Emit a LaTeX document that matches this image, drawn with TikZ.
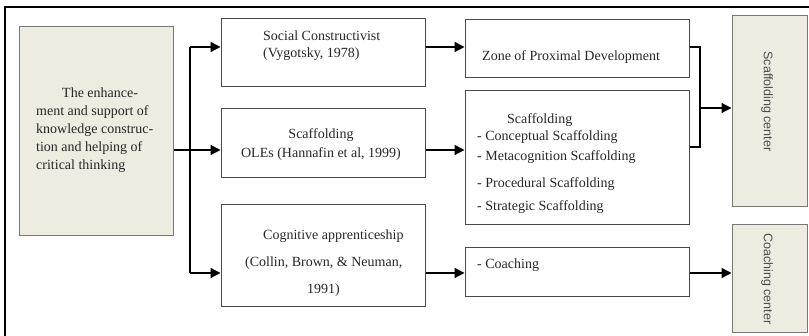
\documentclass[tikz,border=0pt]{standalone}
\usepackage{fontspec}
\setmainfont{Liberation Serif}
\setsansfont{Liberation Sans}
\usetikzlibrary{arrows.meta}

\definecolor{paper}{HTML}{EEEBE1}
\definecolor{edge}{HTML}{4A4A4A}
\tikzset{
  box/.style={draw=edge, line width=1pt, rectangle, inner sep=0pt},
  tan/.style={box, fill=paper, draw=edge!75},
  txt/.style={inner sep=0pt, anchor=north west, align=left, text=black!85,
    font=\fontsize{14}{17}\selectfont},
  side/.style={inner sep=0pt, rotate=-90, text=black!70,
    font=\sffamily\fontsize{12.5}{15}\selectfont},
  wire/.style={line width=1.3pt},
  link/.style={wire, -{Triangle[length=10pt,width=10pt]}}
}

\begin{document}
\begin{tikzpicture}[x=1pt, y=-1pt]
\useasboundingbox (0,0) rectangle (809,336);
\draw[line width=1.8pt] (5,7) rectangle (830,360);

% boxes
\node[tan, minimum width=154pt, minimum height=209pt] (goal) at (96,131.5) {};
\node[box, minimum width=204pt, minimum height=68pt] (soc) at (323,53) {};
\node[box, minimum width=204pt, minimum height=69pt] (ole) at (323,143.5) {};
\node[box, minimum width=204pt, minimum height=102pt] (cog) at (323,256) {};
\node[box, minimum width=224pt, minimum height=58pt] (zpd) at (577,49) {};
\node[box, minimum width=224pt, minimum height=134pt] (scf) at (577,158) {};
\node[box, minimum width=224pt, minimum height=49pt] (coa) at (577,272.5) {};
\node[tan, minimum width=75pt, minimum height=191pt] (scc) at (769.5,111.5) {};
\node[tan, minimum width=75pt, minimum height=108pt] (cc) at (769.5,279) {};

% texts
\node[txt, font=\fontsize{14}{18}\selectfont] (goaltxt) at (36,88)
  {\hspace*{26pt}The enhance-\\ment and support of\\knowledge construc-\\tion and helping of\\critical thinking};
\node[txt] (soctxt) at (263,31) {Social Constructivist\\(Vygotsky, 1978)};
\node[txt, anchor=north, align=center, font=\fontsize{14}{19}\selectfont] (oletxt) at (321,128)
  {Scaffolding\\OLEs (Hannafin et al, 1999)};
\node[txt] (cogtxt) at (245,230)
  {\hspace*{18pt}Cognitive apprenticeship\\[10pt](Collin, Brown, \& Neuman,\\[10pt]\hspace*{62pt}1991)};
\node[txt] (zpdtxt) at (482,50) {Zone of Proximal Development};
\node[txt] (scftxt) at (477,113)
  {\hspace*{30pt}Scaffolding\\- Conceptual Scaffolding\\[3pt]- Metacognition Scaffolding\\[10pt]- Procedural Scaffolding\\[6pt]- Strategic Scaffolding};
\node[txt] (coatxt) at (477,259) {- Coaching};
\node[side] (scctxt) at (767,101.5) {Scaffolding center};
\node[side] (cctxt) at (767,279) {Coaching center};

% connectors
\coordinate (t1) at (190,47);
\coordinate (t2) at (190,150);
\coordinate (t3) at (190,273);
\coordinate (b1) at (700,47);
\coordinate (b2) at (700,147);
\coordinate (b3) at (700,108);
\draw[wire] (t1) -- (t3) (goal.east |- t2) -- (t2);
\draw[link] (t1) -- (t1 -| soc.west);
\draw[link] (t2) -- (t2 -| ole.west);
\draw[link] (t3) -- (t3 -| cog.west);
\draw[link] (soc.east |- t1) -- (zpd.west |- t1);
\draw[link] (ole.east |- t2) -- (scf.west |- t2);
\draw[link] (cog.east |- t3) -- (coa.west |- t3);
\draw[wire] (zpd.east |- b1) -- (b1) -- (b2) -- (scf.east |- b2);
\draw[link] (b3) -- (scc.west |- b3);
\draw[link] (coa.east |- t3) -- (cc.west |- t3);
\end{tikzpicture}
\end{document}
